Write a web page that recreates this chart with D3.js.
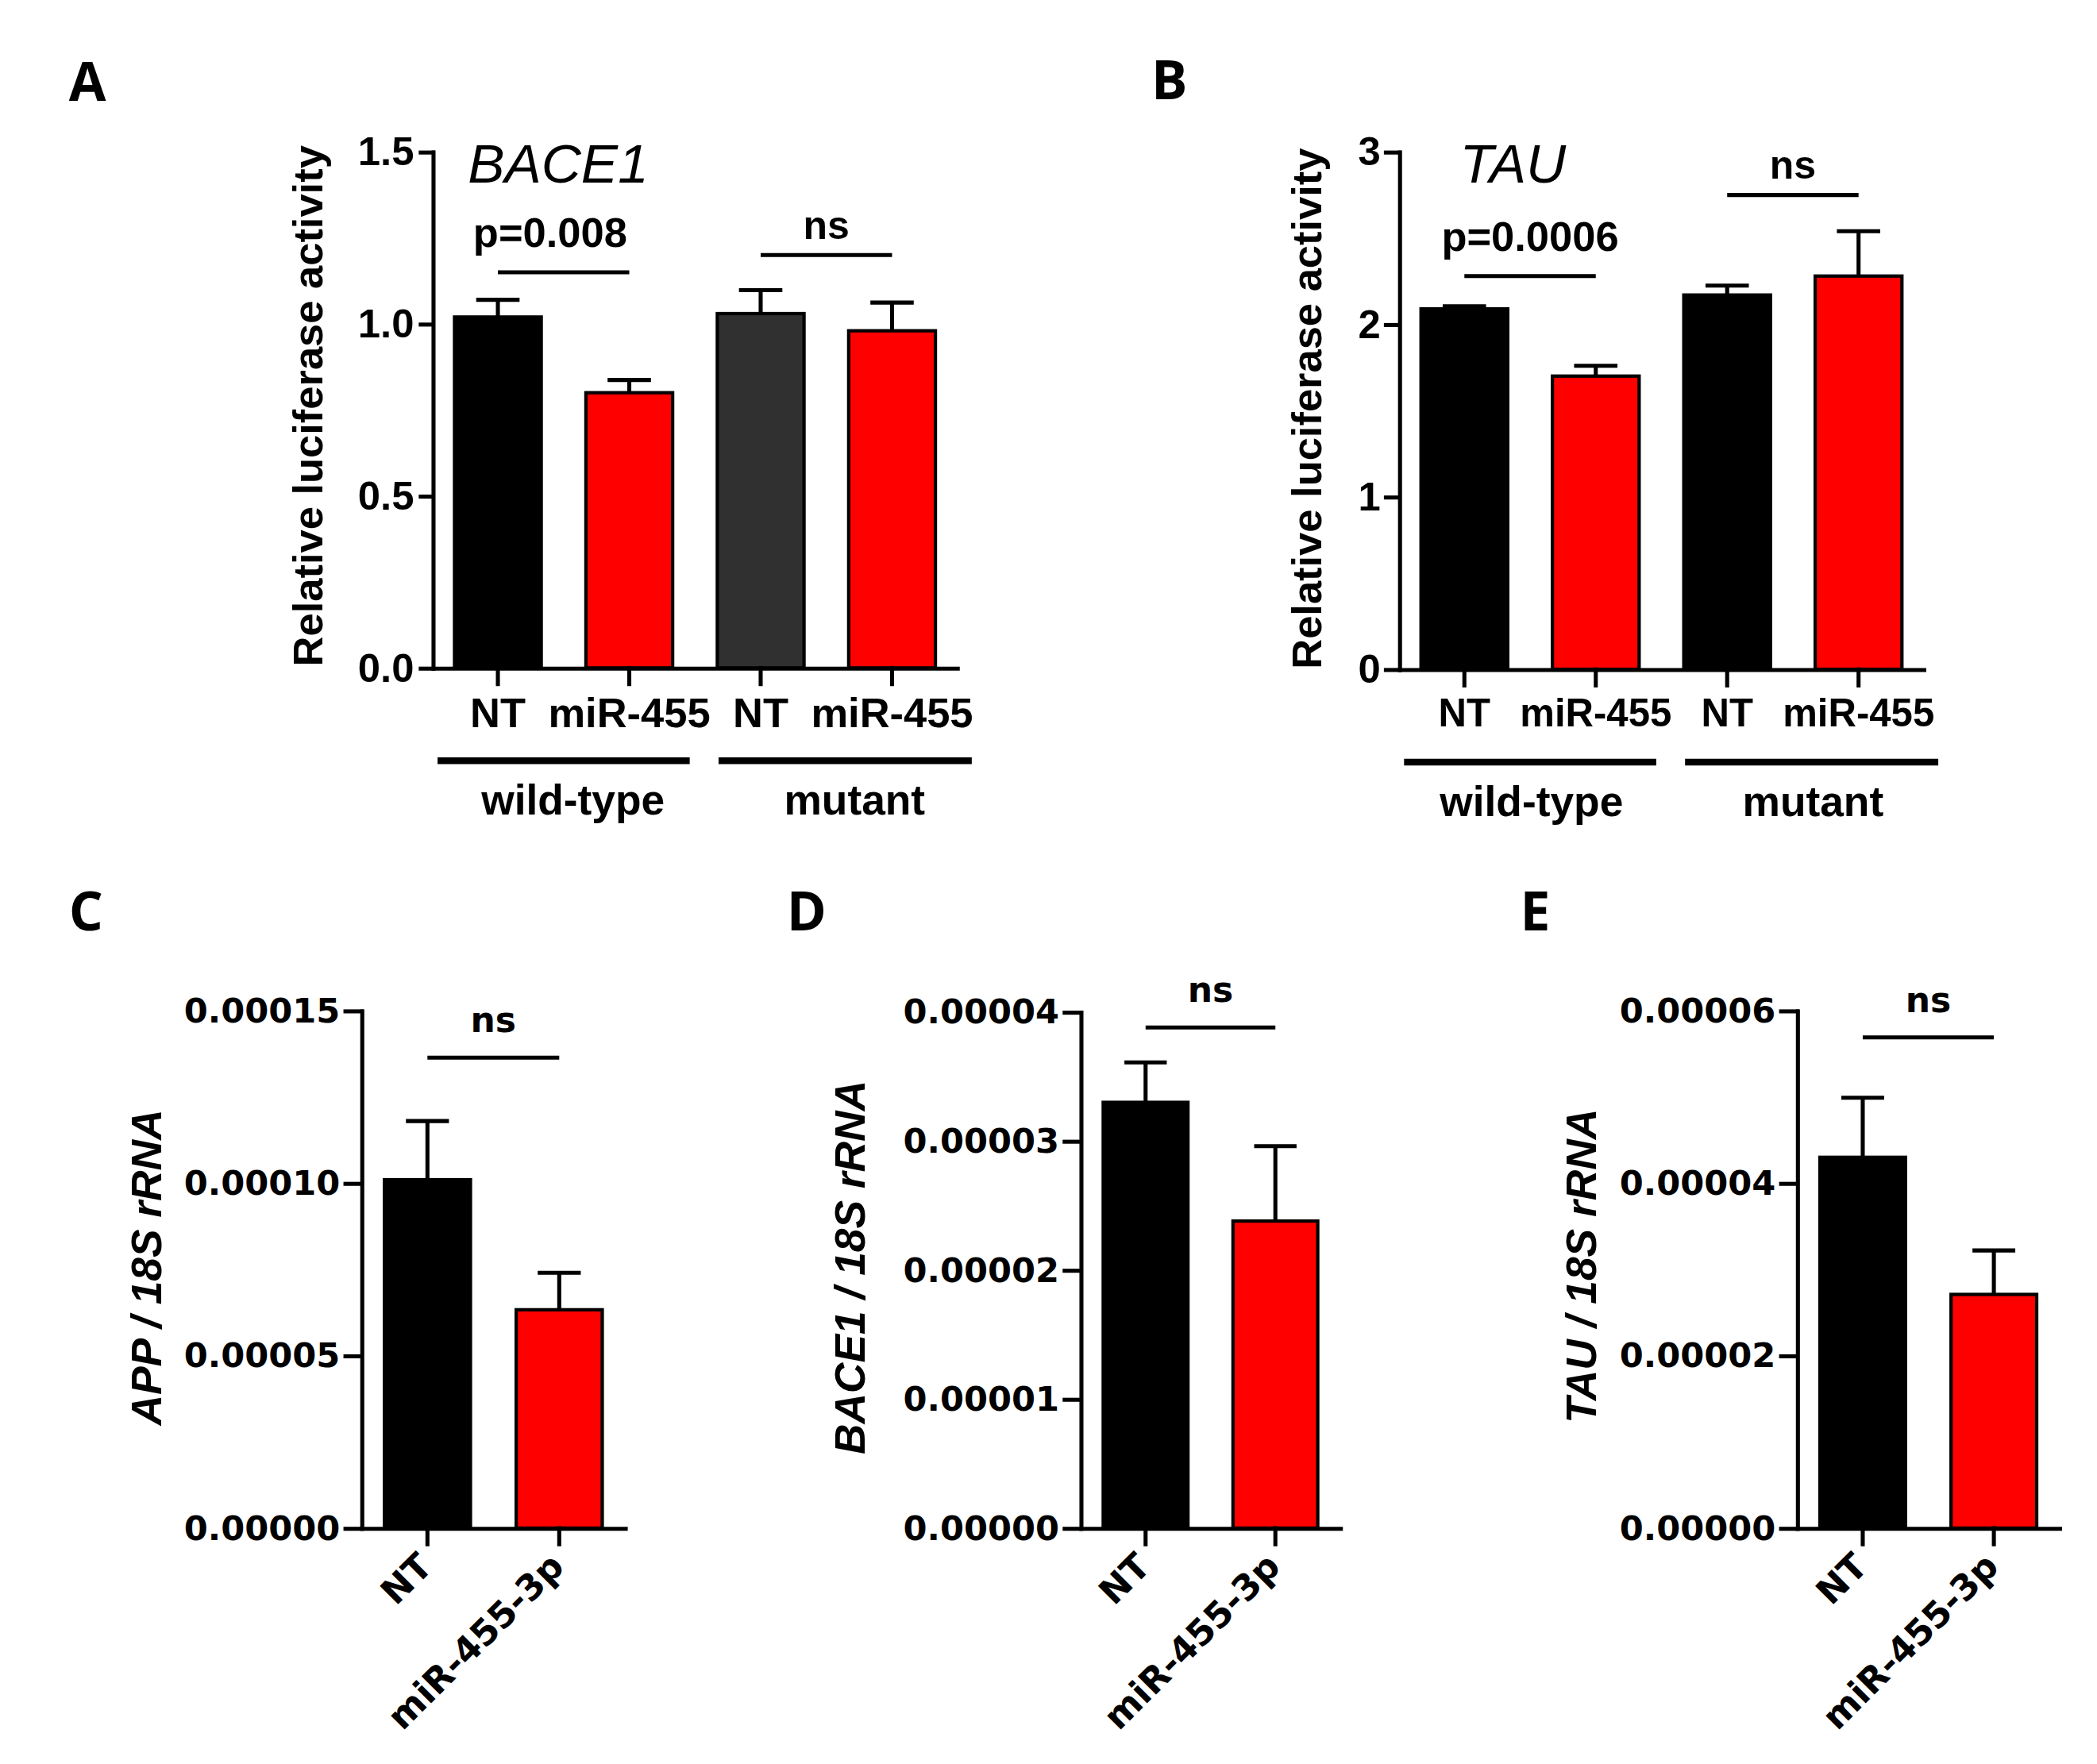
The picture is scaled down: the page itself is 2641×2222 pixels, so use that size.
<!DOCTYPE html>
<html>
<head>
<meta charset="utf-8">
<script src="https://cdn.jsdelivr.net/npm/d3@7"></script>
<style>
  body { margin: 0; background: #fff; }
  svg { display: block; }
</style>
</head>
<body>
<div id="fig"></div>
<script>
// ---- luciferase reporter, panels A and B ----
const lucCategories = ["NT", "miR-455", "NT", "miR-455"];
const lucGroups = ["wild-type", "mutant"];
const bace1LucMean = [1.02, 0.80, 1.03, 0.98];
const bace1LucErr  = [0.05, 0.037, 0.068, 0.082];
const tauLucMean   = [2.09, 1.70, 2.17, 2.28];
const tauLucErr    = [0.015, 0.06, 0.055, 0.26];
const bace1LucTicks = [0, 0.5, 1.0, 1.5];
const tauLucTicks   = [0, 1, 2, 3];

// ---- qPCR, panels C, D and E ----
const qpcrCategories = ["NT", "miR-455-3p"];
const appMean   = [0.000101, 0.0000633];
const appErr    = [0.000017, 0.0000107];
const bace1Mean = [0.0000330, 0.0000238];
const bace1Err  = [0.0000031, 0.0000058];
const tauMean   = [0.0000430, 0.0000271];
const tauErr    = [0.0000069, 0.0000051];
const appTicks   = [0, 0.00005, 0.00010, 0.00015];
const bace1Ticks = [0, 0.00001, 0.00002, 0.00003, 0.00004];
const tauTicks   = [0, 0.00002, 0.00004, 0.00006];

// significance brackets: bar index from/to, level in data units, label
const bace1LucSig = [{from: 0, to: 1, level: 1.15, label: "p=0.008"}, {from: 2, to: 3, level: 1.20, label: "ns"}];
const tauLucSig   = [{from: 0, to: 1, level: 2.28, label: "p=0.0006"}, {from: 2, to: 3, level: 2.75, label: "ns"}];
const appSig   = [{from: 0, to: 1, level: 0.0001364, label: "ns"}];
const bace1Sig = [{from: 0, to: 1, level: 0.0000388, label: "ns"}];
const tauSig   = [{from: 0, to: 1, level: 0.0000569, label: "ns"}];

const RED = "#ff0000", BLACK = "#000000", DARK = "#303030";

window.addEventListener("load", plot);

function getConfig(){
    let width = 2641, height = 2222;
    let vbW = 1560, vbH = 1560 * height / width;
    let arial = "'Liberation Sans', Arial, sans-serif";
    let wide = "'DejaVu Sans', Verdana, sans-serif";
    let letterFont = "'Open Sans', 'Noto Sans', sans-serif";
    // group lines under the category labels, as fractions of the x axis length
    let groupSpans = [[0.009, 0.49], [0.545, 1.028]];
    return {width, height, vbW, vbH, arial, wide, letterFont, groupSpans}
}

function plot(){
    let config = getConfig();
    let svg = d3.select("#fig").append("svg")
        .attr("width", config.width)
        .attr("height", config.height)
        .attr("viewBox", `0 0 ${config.vbW} ${config.vbH}`)
        .style("background-color", "#fff");

    let lucStyle = {font: config.arial, tickFont: 30, catFont: 31, yTickLen: 9, yTickPad: 5,
                    padIn: 0.34, padOut: 0.165, sigFont: 31, nsFont: 29.5, titleFont: 31,
                    nsGap: 12, sigGap: 19, titleBold: true, titleItalic: false};
    let qStyle = {font: config.wide, tickFont: 25.5, catFont: 26.5, yTickLen: 12, yTickPad: 4,
                  padIn: 0.347, padOut: 0.173, sigFont: 26, nsFont: 26, titleFont: 31.5,
                  nsGap: 19, sigGap: 19, titleBold: true, titleItalic: true, rotate: true};

    drawPanel(svg, config, Object.assign({}, lucStyle, {
        letter: "A", letterX: 65, letterY: 75,
        means: bace1LucMean, errs: bace1LucErr, cats: lucCategories, groups: lucGroups, groupShift: 7,
        colors: [BLACK, RED, DARK, RED], ticks: bace1LucTicks, fmt: d3.format(".1f"),
        x0: 322, x1: 712, y0: 497, y1: 113, sig: bace1LucSig, sigShift: -10,
        gene: "BACE1", geneX: 348, geneY: 136,
        ytitle: "Relative luciferase activity", ytitleX: 240, ytitleY: 302
    }));
    drawPanel(svg, config, Object.assign({}, lucStyle, {
        letter: "B", letterX: 870, letterY: 74, catFont: 29,
        means: tauLucMean, errs: tauLucErr, cats: lucCategories, groups: lucGroups, groupShift: 1,
        colors: [BLACK, RED, BLACK, RED], ticks: tauLucTicks, fmt: d3.format("d"),
        x0: 1041, x1: 1431, y0: 498, y1: 113, sig: tauLucSig, yTickLen: 10, yTickPad: 4,
        gene: "TAU", geneX: 1086, geneY: 136,
        ytitle: "Relative luciferase activity", ytitleX: 983, ytitleY: 304
    }));
    drawPanel(svg, config, Object.assign({}, qStyle, {
        letter: "C", letterX: 64, letterY: 692,
        means: appMean, errs: appErr, cats: qpcrCategories,
        colors: [BLACK, RED], ticks: appTicks, fmt: d3.format(".5f"),
        x0: 269, x1: 465, y0: 1137, y1: 752, sig: appSig,
        ytitle: "APP / 18S rRNA", ytitleX: 120, ytitleY: 943
    }));
    drawPanel(svg, config, Object.assign({}, qStyle, {
        letter: "D", letterX: 600, letterY: 692,
        means: bace1Mean, errs: bace1Err, cats: qpcrCategories,
        colors: [BLACK, RED], ticks: bace1Ticks, fmt: d3.format(".5f"),
        x0: 804, x1: 997, y0: 1137, y1: 753, sig: bace1Sig,
        ytitle: "BACE1 / 18S rRNA", ytitleX: 643, ytitleY: 943
    }));
    drawPanel(svg, config, Object.assign({}, qStyle, {
        letter: "E", letterX: 1142, letterY: 692,
        means: tauMean, errs: tauErr, cats: qpcrCategories,
        colors: [BLACK, RED], ticks: tauTicks, fmt: d3.format(".5f"),
        x0: 1337, x1: 1532, y0: 1137, y1: 752, sig: tauSig,
        ytitle: "TAU / 18S rRNA", ytitleX: 1187, ytitleY: 942
    }));
}

function drawPanel(svg, config, p){
    let g = svg.append("g");

    let xScale = d3.scaleBand()
        .domain(d3.range(p.means.length))
        .range([p.x0, p.x1])
        .paddingInner(p.padIn)
        .paddingOuter(p.padOut);
    let yScale = d3.scaleLinear()
        .domain([0, d3.max(p.ticks)])
        .range([p.y0, p.y1]);
    let cx = i => xScale(i) + xScale.bandwidth() / 2;

    // panel letter
    g.append("text")
        .attr("x", p.letterX).attr("y", p.letterY)
        .attr("text-anchor", "middle")
        .attr("font-family", config.letterFont)
        .attr("font-weight", 700)
        .attr("font-size", 40)
        .text(p.letter);

    // bars
    g.selectAll("rect.bar")
        .data(p.means)
        .join("rect")
        .attr("class", "bar")
        .attr("x", (d, i) => xScale(i))
        .attr("y", d => yScale(d))
        .attr("width", xScale.bandwidth())
        .attr("height", d => yScale(0) - yScale(d))
        .attr("fill", (d, i) => p.colors[i])
        .attr("stroke", "#000")
        .attr("stroke-width", 2.5);

    // upper error bars only (GraphPad style)
    let capHalf = xScale.bandwidth() * 0.25;
    let err = g.selectAll("g.err")
        .data(p.means)
        .join("g")
        .attr("class", "err")
        .attr("stroke", "#000")
        .attr("stroke-width", 3);
    err.append("line")
        .attr("x1", (d, i) => cx(i)).attr("x2", (d, i) => cx(i))
        .attr("y1", d => yScale(d))
        .attr("y2", (d, i) => yScale(d + p.errs[i]));
    err.append("line")
        .attr("x1", (d, i) => cx(i) - capHalf).attr("x2", (d, i) => cx(i) + capHalf)
        .attr("y1", (d, i) => yScale(d + p.errs[i]))
        .attr("y2", (d, i) => yScale(d + p.errs[i]));

    // y axis
    let yAx = g.append("g")
        .attr("transform", `translate(${p.x0},0)`)
        .call(d3.axisLeft(yScale)
            .tickValues(p.ticks)
            .tickFormat(p.fmt)
            .tickSize(p.yTickLen)
            .tickSizeOuter(0)
            .tickPadding(p.yTickPad));
    yAx.selectAll("path, line").attr("stroke", "#000").attr("stroke-width", 3).attr("stroke-linecap", "square");
    yAx.selectAll(".tick text")
        .attr("fill", "#000")
        .attr("font-family", p.font)
        .attr("font-weight", 700)
        .attr("font-size", p.tickFont);

    // x axis
    let xAx = g.append("g")
        .attr("transform", `translate(0,${p.y0})`)
        .call(d3.axisBottom(xScale)
            .tickSize(12)
            .tickSizeOuter(0)
            .tickPadding(10)
            .tickFormat(i => p.cats[i]));
    xAx.selectAll("path, line").attr("stroke", "#000").attr("stroke-width", 3).attr("stroke-linecap", "square");
    xAx.selectAll(".tick text")
        .attr("fill", "#000")
        .attr("font-family", p.font)
        .attr("font-weight", 700)
        .attr("font-size", p.catFont);
    if(p.rotate){
        xAx.selectAll(".tick text")
            .attr("x", 0).attr("y", 0).attr("dy", null)
            .attr("text-anchor", "end")
            .attr("transform", "translate(5,30) rotate(-45)");
    }

    // group lines below the category labels
    if(p.groups){
        let L = p.x1 - p.x0;
        p.groups.forEach((grp, k) => {
            let [f0, f1] = config.groupSpans[k];
            let gx0 = p.x0 + f0 * L, gx1 = p.x0 + f1 * L;
            g.append("line")
                .attr("x1", gx0).attr("x2", gx1)
                .attr("y1", p.y0 + 69).attr("y2", p.y0 + 69)
                .attr("stroke", "#000").attr("stroke-width", 5);
            g.append("text")
                .attr("x", (gx0 + gx1) / 2 + p.groupShift).attr("y", p.y0 + 109)
                .attr("text-anchor", "middle")
                .attr("font-family", p.font)
                .attr("font-weight", 700)
                .attr("font-size", 31.5)
                .text(grp);
        });
    }

    // significance lines
    p.sig.forEach(s => {
        let ly = yScale(s.level);
        let isNs = s.label == "ns";
        g.append("line")
            .attr("x1", cx(s.from)).attr("x2", cx(s.to))
            .attr("y1", ly).attr("y2", ly)
            .attr("stroke", "#000").attr("stroke-width", 3);
        g.append("text")
            .attr("x", (cx(s.from) + cx(s.to)) / 2 + (isNs ? 0 : (p.sigShift || 0)))
            .attr("y", ly - (isNs ? p.nsGap : p.sigGap))
            .attr("text-anchor", "middle")
            .attr("font-family", p.font)
            .attr("font-weight", 700)
            .attr("font-size", isNs ? p.nsFont : p.sigFont)
            .text(s.label);
    });

    // gene name inside the plot
    if(p.gene){
        g.append("text")
            .attr("x", p.geneX).attr("y", p.geneY)
            .attr("font-family", config.arial)
            .attr("font-style", "italic")
            .attr("font-size", 41)
            .text(p.gene);
    }

    // y axis title
    g.append("text")
        .attr("transform", `translate(${p.ytitleX},${p.ytitleY}) rotate(-90)`)
        .attr("text-anchor", "middle")
        .attr("font-family", config.arial)
        .attr("font-weight", p.titleBold ? 700 : 400)
        .attr("font-style", p.titleItalic ? "italic" : "normal")
        .attr("font-size", p.titleFont)
        .text(p.ytitle);
}
</script>
</body>
</html>
